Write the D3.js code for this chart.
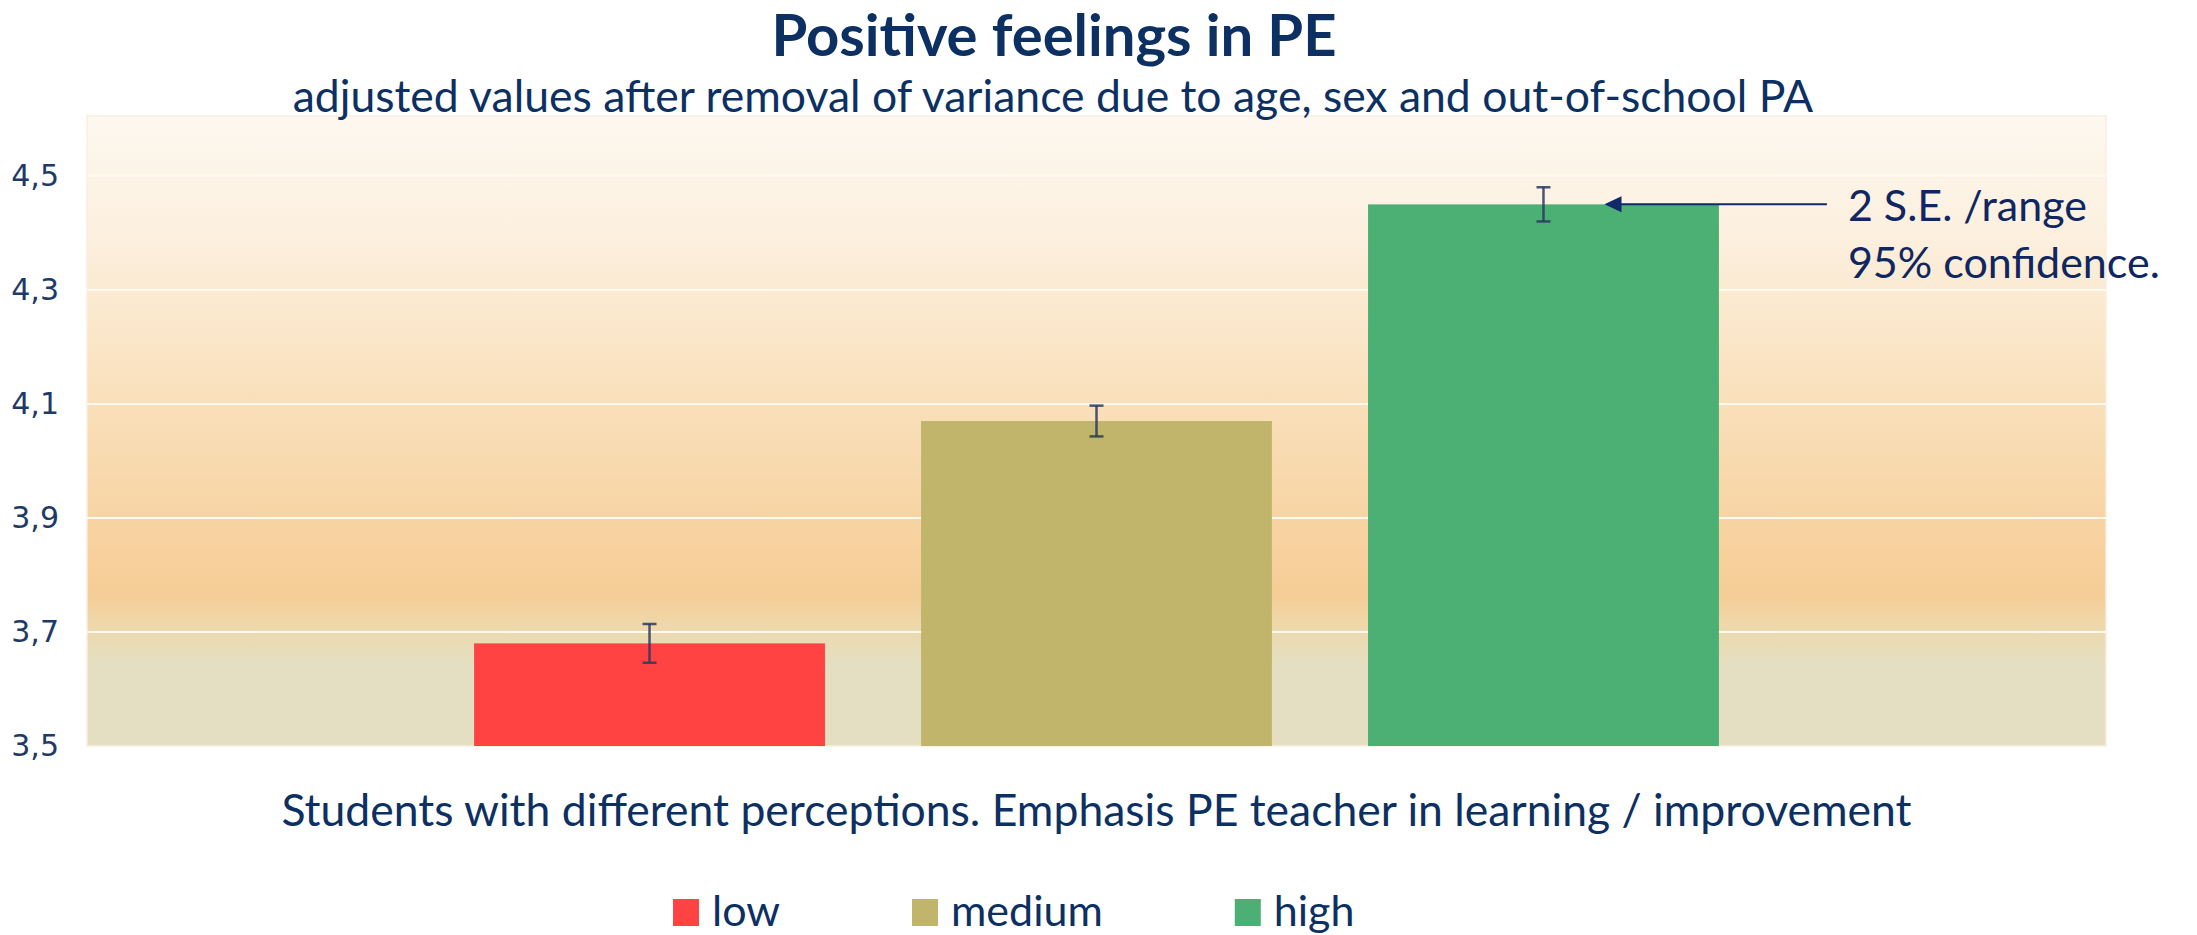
<!DOCTYPE html>
<html>
<head>
<meta charset="utf-8">
<script src="https://cdn.jsdelivr.net/npm/d3@7"></script>
<style>
  html, body { margin: 0; padding: 0; background: #ffffff; }
  svg { display: block; }
</style>
</head>
<body>
<div id="container"></div>
<script>
// values
const categories = ["low", "medium", "high"];
const values = [3.68, 4.07, 4.45];
const errors = [0.034, 0.027, 0.03]; // half-length of the 2 S.E. bars
const barColors = ["#ff4343", "#c1b56c", "#4caf73"];
const yTicks = [3.5, 3.7, 3.9, 4.1, 4.3, 4.5];
const gridTicks = [3.7, 3.9, 4.1, 4.3, 4.5];

const titleText = "Positive feelings in PE";
const subtitleText = "adjusted values after removal of variance due to age, sex and out-of-school PA";
const xTitleText = "Students with different perceptions. Emphasis PE teacher in learning / improvement";
const noteLines = ["2 S.E. /range", "95% confidence."];

const width = 2197;
const height = 935;
const marginTop = 116;
const marginRight = 91;
const marginBottom = 189;
const marginLeft = 87;
const navy = "#0d3063";
const font = "Lato, 'Open Sans', sans-serif";

const svg = d3.select("#container")
  .append("svg")
  .attr("width", width)
  .attr("height", height);

const x = d3.scaleBand()
  .domain(categories)
  .range([marginLeft, width - marginRight])
  .paddingInner(0.215)
  .paddingOuter(0.866);

const y = d3.scaleLinear()
  .domain([3.5, 4.605])
  .range([height - marginBottom, marginTop]);

// comma as decimal mark, like the original
const fmt = d3.formatLocale({decimal: ",", thousands: ".", grouping: [3], currency: ["", ""]}).format(".1f");

// background gradient of the plot area
const defs = svg.append("defs");
const grad = defs.append("linearGradient")
  .attr("id", "bg")
  .attr("x1", 0).attr("y1", 0).attr("x2", 0).attr("y2", 1);
[
  [0, "#fdf8f0"],
  [0.2, "#fcefdd"],
  [0.45, "#f9e0bb"],
  [0.7, "#f7d09c"],
  [0.76, "#f5cd96"],
  [0.81, "#eed8ab"],
  [0.87, "#e4dfc2"],
  [1, "#e4dfc3"]
].forEach(([o, c]) => grad.append("stop").attr("offset", o).attr("stop-color", c));

svg.append("rect")
  .attr("x", marginLeft)
  .attr("y", marginTop)
  .attr("width", width - marginLeft - marginRight)
  .attr("height", height - marginTop - marginBottom)
  .attr("fill", "url(#bg)")
  .attr("stroke", "#f8efdf")
  .attr("stroke-width", 1.5);

// gridlines
svg.append("g")
  .selectAll("line")
  .data(gridTicks)
  .join("line")
  .attr("x1", marginLeft)
  .attr("x2", width - marginRight)
  .attr("y1", d => y(d))
  .attr("y2", d => y(d))
  .attr("stroke", "#fffaf0")
  .attr("stroke-width", 2);

// y axis
const yAxis = svg.append("g")
  .attr("transform", `translate(${marginLeft},0)`)
  .call(d3.axisLeft(y).tickValues(yTicks).tickFormat(fmt).tickSize(0).tickPadding(28));
yAxis.select(".domain").remove();
yAxis.selectAll("text")
  .attr("font-family", "'DejaVu Sans', sans-serif")
  .attr("font-size", 30)
  .attr("fill", "#1d3a68");

// bars
svg.append("g")
  .selectAll("rect")
  .data(categories)
  .join("rect")
  .attr("x", d => x(d))
  .attr("y", (d, i) => y(values[i]))
  .attr("width", x.bandwidth())
  .attr("height", (d, i) => y(3.5) - y(values[i]))
  .attr("fill", (d, i) => barColors[i]);

// error bars
const err = svg.append("g")
  .attr("stroke", "#2a3a62")
  .attr("stroke-opacity", 0.85)
  .attr("stroke-width", 2.5)
  .selectAll("g")
  .data(categories)
  .join("g")
  .attr("transform", d => `translate(${x(d) + x.bandwidth() / 2},0)`);
err.append("line")
  .attr("y1", (d, i) => y(values[i] + errors[i]))
  .attr("y2", (d, i) => y(values[i] - errors[i]));
err.append("line")
  .attr("x1", -7).attr("x2", 7)
  .attr("y1", (d, i) => y(values[i] + errors[i]))
  .attr("y2", (d, i) => y(values[i] + errors[i]));
err.append("line")
  .attr("x1", -7).attr("x2", 7)
  .attr("y1", (d, i) => y(values[i] - errors[i]))
  .attr("y2", (d, i) => y(values[i] - errors[i]));

// annotation arrow pointing at the "high" error bar
const hi = categories.length - 1;
const arrowY = y(values[hi]);
const tipX = x(categories[hi]) + x.bandwidth() / 2 + 61;
const startX = x(categories[hi]) + x.bandwidth() + 108;
svg.append("line")
  .attr("x1", startX).attr("x2", tipX + 14)
  .attr("y1", arrowY).attr("y2", arrowY)
  .attr("stroke", "#10296a")
  .attr("stroke-width", 2);
svg.append("path")
  .attr("d", `M${tipX},${arrowY} L${tipX + 17},${arrowY - 8} L${tipX + 17},${arrowY + 8} Z`)
  .attr("fill", "#10296a");

svg.append("g")
  .selectAll("text")
  .data(noteLines)
  .join("text")
  .attr("x", startX + 21)
  .attr("y", (d, i) => 221 + i * 57)
  .attr("font-family", font)
  .attr("font-size", 43)
  .attr("fill", "#0f2660")
  .text(d => d);

// titles
svg.append("text")
  .attr("x", 1054)
  .attr("y", 56)
  .attr("text-anchor", "middle")
  .attr("font-family", font)
  .attr("font-weight", "bold")
  .attr("font-size", 58)
  .attr("fill", navy)
  .text(titleText);

svg.append("text")
  .attr("x", 1053)
  .attr("y", 112)
  .attr("text-anchor", "middle")
  .attr("font-family", font)
  .attr("font-size", 44.5)
  .attr("fill", navy)
  .text(subtitleText);

svg.append("text")
  .attr("x", (marginLeft + width - marginRight) / 2)
  .attr("y", 826)
  .attr("text-anchor", "middle")
  .attr("font-family", font)
  .attr("font-size", 44.5)
  .attr("fill", navy)
  .text(xTitleText);

// legend
const legend = svg.append("g");
let lx = 673;
categories.forEach((c, i) => {
  legend.append("rect")
    .attr("x", lx).attr("y", 899)
    .attr("width", 26).attr("height", 27)
    .attr("fill", barColors[i]);
  const t = legend.append("text")
    .attr("x", lx + 39).attr("y", 926)
    .attr("font-family", font)
    .attr("font-size", 43)
    .attr("fill", navy)
    .text(c);
  lx += 39 + t.node().getComputedTextLength() + 132;
});
</script>
</body>
</html>
